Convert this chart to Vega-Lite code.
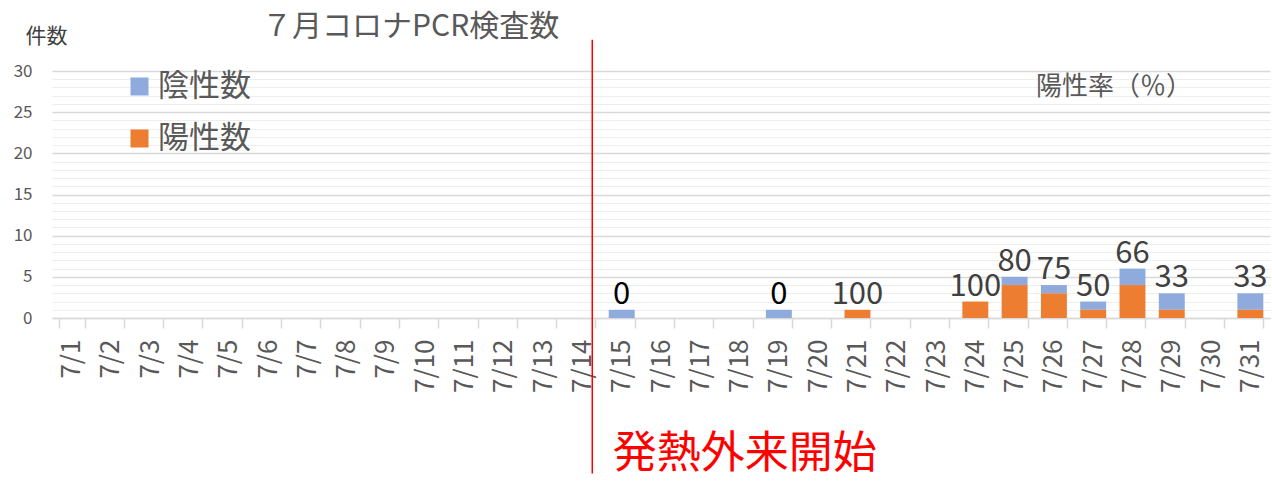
{
  "$schema": "https://vega.github.io/schema/vega-lite/v6.json",
  "width": 1218,
  "height": 247,
  "autosize": "none",
  "padding": {"left": 52, "top": 71, "right": 2, "bottom": 163},
  "background": "white",
  "config": {
    "font": "Noto Sans CJK JP",
    "view": {"stroke": null},
    "axis": {"labelFont": "Noto Sans CJK JP", "titleFont": "Noto Sans CJK JP"}
  },
  "title": {
    "text": "７月コロナPCR検査数",
    "anchor": "start",
    "frame": "group",
    "dx": 210,
    "offset": -17,
    "fontSize": 30,
    "fontWeight": "normal",
    "color": "#595959",
    "font": "Noto Sans CJK JP"
  },
  "data": {
    "values": [
      {"日付": "7/15", "陽性数": 0, "陰性数": 1, "陽性率": 0},
      {"日付": "7/19", "陽性数": 0, "陰性数": 1, "陽性率": 0},
      {"日付": "7/21", "陽性数": 1, "陰性数": 0, "陽性率": 100},
      {"日付": "7/24", "陽性数": 2, "陰性数": 0, "陽性率": 100},
      {"日付": "7/25", "陽性数": 4, "陰性数": 1, "陽性率": 80},
      {"日付": "7/26", "陽性数": 3, "陰性数": 1, "陽性率": 75},
      {"日付": "7/27", "陽性数": 1, "陰性数": 1, "陽性率": 50},
      {"日付": "7/28", "陽性数": 4, "陰性数": 2, "陽性率": 66},
      {"日付": "7/29", "陽性数": 1, "陰性数": 2, "陽性率": 33},
      {"日付": "7/31", "陽性数": 1, "陰性数": 2, "陽性率": 33}
    ]
  },
  "encoding": {
    "x": {
      "field": "日付",
      "type": "ordinal",
      "sort": null,
      "scale": {
        "domain": ["7/1","7/2","7/3","7/4","7/5","7/6","7/7","7/8","7/9","7/10","7/11","7/12","7/13","7/14","7/15","7/16","7/17","7/18","7/19","7/20","7/21","7/22","7/23","7/24","7/25","7/26","7/27","7/28","7/29","7/30","7/31"],
        "paddingInner": 0.34,
        "paddingOuter": 0.17
      },
      "axis": {
        "title": null,
        "labelAngle": -90,
        "labelFontSize": 26,
        "labelColor": "#595959",
        "labelPadding": 11,
        "tickBand": "extent",
        "tickSize": 10,
        "tickColor": "#d9d9d9",
        "tickWidth": 1.5,
        "domainColor": "#d9d9d9",
        "domainWidth": 1.5,
        "grid": false
      }
    }
  },
  "resolve": {"axis": {"y": "independent"}},
  "layer": [
    {
      "data": {"values": [{}]},
      "mark": {"type": "rule", "opacity": 0},
      "encoding": {
        "x": {"datum": "7/1", "type": "ordinal"},
        "y": {
          "datum": 0,
          "type": "quantitative",
          "scale": {"domain": [0, 30], "nice": false, "zero": false},
          "axis": {
            "orient": "left",
            "title": null,
            "values": [1,2,3,4,6,7,8,9,11,12,13,14,16,17,18,19,21,22,23,24,26,27,28,29],
            "labels": false,
            "ticks": false,
            "domain": false,
            "grid": true,
            "gridColor": "#eeeeee",
            "gridWidth": 1.2
          }
        }
      }
    },
    {
      "transform": [{"fold": ["陰性数", "陽性数"], "as": ["種類", "件数"]}],
      "mark": {"type": "bar"},
      "encoding": {
        "y": {
          "field": "件数",
          "type": "quantitative",
          "aggregate": "sum",
          "stack": "zero",
          "scale": {"domain": [0, 30], "nice": false, "zero": false},
          "axis": {
            "orient": "left",
            "title": "件数",
            "titleAngle": 0,
            "titleAlign": "left",
            "titleBaseline": "middle",
            "titleX": -27,
            "titleY": -35,
            "titleFontSize": 21,
            "titleFontWeight": "normal",
            "titleColor": "#404040",
            "values": [0, 5, 10, 15, 20, 25, 30],
            "labelFontSize": 17,
            "labelColor": "#595959",
            "labelPadding": 20,
            "labelOverlap": false,
            "ticks": false,
            "domain": false,
            "grid": true,
            "gridColor": "#d9d9d9",
            "gridWidth": 1.5
          }
        },
        "color": {
          "field": "種類",
          "type": "nominal",
          "scale": {"domain": ["陰性数", "陽性数"], "range": ["#8FAADC", "#ED7D31"]},
          "legend": {
            "orient": "none",
            "legendX": 72,
            "legendY": 0,
            "title": null,
            "symbolType": "square",
            "symbolSize": 324,
            "symbolStrokeWidth": 0,
            "labelFontSize": 31,
            "labelColor": "#595959",
            "labelFont": "Noto Sans CJK JP",
            "labelOffset": 3,
            "rowPadding": 20
          }
        },
        "order": {"field": "種類", "sort": "descending"}
      }
    },
    {
      "transform": [
        {"fold": ["陰性数", "陽性数"], "as": ["種類", "件数"]},
        {"aggregate": [{"op": "sum", "field": "件数", "as": "合計"}, {"op": "max", "field": "陽性率", "as": "率"}], "groupby": ["日付"]}
      ],
      "mark": {"type": "text", "baseline": "middle", "dy": -15, "fontSize": 31, "font": "Noto Sans CJK JP"},
      "encoding": {
        "y": {"field": "合計", "type": "quantitative", "scale": {"domain": [0, 30], "nice": false, "zero": false}, "axis": null},
        "text": {"field": "率", "type": "quantitative"},
        "color": {"condition": {"test": "datum['率'] === 0", "value": "#000000"}, "value": "#404040"}
      }
    },
    {
      "data": {"values": [{}]},
      "mark": {"type": "rule", "color": "#FF0000", "strokeWidth": 1.5},
      "encoding": {
        "x": {"datum": "7/14", "type": "ordinal", "bandPosition": 0.88},
        "y": {"datum": 33.8, "type": "quantitative", "scale": {"domain": [0, 30], "nice": false, "zero": false}, "axis": null},
        "y2": {"datum": -18.9}
      }
    },
    {
      "data": {"values": [{}]},
      "mark": {"type": "text", "text": "発熱外来開始", "color": "#FF0000", "fontSize": 44, "align": "left", "baseline": "middle", "dx": 4, "font": "Noto Sans CJK JP"},
      "encoding": {
        "x": {"datum": "7/15", "type": "ordinal", "bandPosition": 0},
        "y": {"datum": -16.6, "type": "quantitative", "scale": {"domain": [0, 30], "nice": false, "zero": false}, "axis": null}
      }
    },
    {
      "data": {"values": [{}]},
      "mark": {"type": "text", "text": "陽性率（％）", "color": "#595959", "fontSize": 26, "align": "left", "baseline": "middle", "dx": -5, "font": "Noto Sans CJK JP"},
      "encoding": {
        "x": {"datum": "7/26", "type": "ordinal", "bandPosition": 0},
        "y": {"datum": 28.1, "type": "quantitative", "scale": {"domain": [0, 30], "nice": false, "zero": false}, "axis": null}
      }
    }
  ]
}
